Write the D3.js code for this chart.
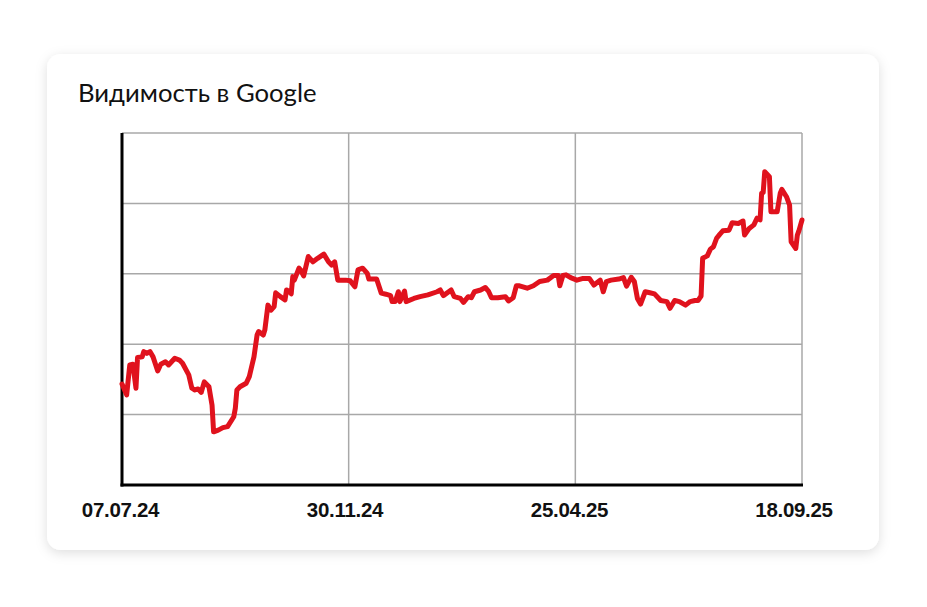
<!DOCTYPE html>
<html>
<head>
<meta charset="utf-8">
<script src="https://cdnjs.cloudflare.com/ajax/libs/d3/7.8.5/d3.min.js"></script>
<style>
  html, body { margin: 0; padding: 0; background: #ffffff; }
  #chart { width: 927px; height: 607px; }
</style>
</head>
<body>
<div id="chart"></div>
<script>
// Chart data (days after 07.07.24, visibility value)
const startDate = new Date(2024, 6, 7);
const dayOffsets = [
  0, 3, 5, 7, 9, 10, 13, 14, 16, 18, 20, 23, 25, 28, 30, 34, 37, 39, 43, 45,
  47, 49, 51, 53, 56, 58, 59, 62, 65, 68, 72, 73, 74, 76, 80, 82, 85, 87, 88, 91,
  92, 94, 96, 98, 99, 102, 105, 106, 108, 109, 110, 111, 114, 115, 117, 120, 123, 126, 130, 133,
  135, 137, 139, 144, 147, 150, 152, 155, 158, 159, 164, 167, 170, 173, 174, 176, 178, 179, 182, 183,
  188, 192, 197, 203, 205, 207, 212, 214, 218, 220, 223, 225, 227, 231, 234, 236, 238, 242, 247, 249,
  252, 254, 256, 261, 265, 269, 274, 278, 281, 282, 284, 286, 289, 293, 297, 301, 304, 308, 310, 312,
  315, 320, 323, 325, 328, 330, 332, 334, 337, 340, 343, 347, 351, 353, 356, 359, 363, 366, 369, 371,
  373, 374, 377, 379, 381, 383, 385, 387, 391, 393, 397, 400, 401, 404, 407, 409, 411, 412, 413, 414,
  417, 418, 422, 424, 425, 428, 430, 431, 434, 435, 436, 438
];
const visibility = [
  28.7, 25.6, 34.1, 34.3, 27.5, 36.2, 36.4, 37.9, 37.4, 37.9, 36.4, 32.4, 34.3, 35.0, 34.1, 36.0, 35.5, 34.6, 31.3, 27.5,
  27.0, 27.3, 26.3, 29.3, 27.9, 22.7, 15.1, 15.6, 16.3, 16.6, 19.4, 21.8, 27.0, 27.9, 28.9, 30.8, 36.4, 42.6, 43.6, 42.6,
  44.0, 51.1, 49.7, 50.7, 54.6, 53.5, 52.6, 55.4, 54.9, 54.3, 59.2, 58.2, 61.6, 61.1, 59.4, 64.9, 63.4, 64.4, 65.6, 63.4,
  62.5, 63.4, 58.2, 58.2, 58.0, 56.3, 61.1, 61.6, 60.1, 58.5, 58.5, 54.5, 54.2, 53.8, 52.1, 52.1, 54.9, 52.1, 55.1, 52.1,
  53.0, 53.5, 54.0, 54.9, 55.4, 53.8, 55.4, 53.5, 53.0, 51.9, 53.5, 53.2, 54.9, 55.4, 56.1, 55.1, 53.2, 53.2, 53.5, 52.3,
  53.2, 56.6, 56.6, 55.9, 56.6, 57.8, 58.2, 59.5, 59.5, 56.6, 59.5, 59.7, 58.9, 58.2, 58.7, 58.7, 56.8, 58.2, 54.9, 57.8,
  58.2, 58.5, 58.9, 56.5, 59.0, 57.8, 53.0, 51.4, 54.9, 54.6, 54.3, 52.4, 52.1, 50.2, 52.4, 52.1, 51.1, 52.1, 52.4, 52.4,
  53.7, 64.4, 65.1, 67.0, 67.7, 70.1, 71.2, 72.2, 72.4, 74.5, 74.3, 75.0, 71.0, 72.9, 73.9, 75.8, 75.3, 82.9, 83.1, 89.0,
  87.6, 77.6, 77.6, 82.9, 84.0, 81.9, 79.5, 69.1, 67.2, 71.0, 72.2, 75.3
];
const tickDates = ["07.07.24", "30.11.24", "25.04.25", "18.09.25"];
const yTicks = [20, 40, 60, 80, 100];

const parseTick = d3.timeParse("%d.%m.%y");
const lineData = dayOffsets.map((d, i) => ({ date: d3.timeDay.offset(startDate, d), value: visibility[i] }));

const createVisibilityChart = () => {
    //Setting up chart margins
    let margin = {top: 133, right: 125, bottom: 122, left: 122};
    let width = 927 - margin.left - margin.right;
    let height = 607 - margin.top - margin.bottom + 1;

    let root = d3.select("#chart").append("svg")
        .attr("width", 927)
        .attr("height", 607);

    //Card with soft shadow
    let defs = root.append("defs");
    defs.append("filter")
        .attr("id", "shadow")
        .attr("x", "-10%").attr("y", "-10%")
        .attr("width", "120%").attr("height", "130%")
        .append("feDropShadow")
        .attr("dx", 0).attr("dy", 3)
        .attr("stdDeviation", 6)
        .attr("flood-color", "#000")
        .attr("flood-opacity", 0.13);

    root.append("rect")
        .attr("x", 47).attr("y", 54)
        .attr("width", 832).attr("height", 496)
        .attr("rx", 14).attr("ry", 14)
        .attr("fill", "#fff")
        .attr("filter", "url(#shadow)");

    //Title
    root.append("text")
        .attr("x", 78).attr("y", 102)
        .text("Видимость в Google")
        .style("font-family", "Lato, 'Noto Sans', sans-serif")
        .style("font-size", "25.7px")
        .style("fill", "#111");

    let svg = root.append("g")
        .attr("transform", "translate(" + margin.left + "," + margin.top + ")");

    //Scales
    let x = d3.scaleTime()
        .domain([parseTick(tickDates[0]), parseTick(tickDates[tickDates.length - 1])])
        .range([0, width]);
    let xLabel = d3.scaleTime()
        .domain(x.domain())
        .range([-2, width - 8.5]);
    let y = d3.scaleLinear()
        .domain([0, 100])
        .range([height - 1, 0]);

    //Horizontal grid
    svg.append("g")
        .selectAll("line")
        .data(yTicks)
        .enter().append("line")
        .attr("x1", 0).attr("x2", width)
        .attr("y1", d => y(d)).attr("y2", d => y(d))
        .style("stroke", "#a8a8a8")
        .style("stroke-width", 1.5);

    //Vertical grid
    svg.append("g")
        .selectAll("line")
        .data(tickDates.slice(1))
        .enter().append("line")
        .attr("x1", d => x(parseTick(d))).attr("x2", d => x(parseTick(d)))
        .attr("y1", 0).attr("y2", y(0))
        .style("stroke", "#a8a8a8")
        .style("stroke-width", 1.5);

    //Axes lines
    svg.append("line")
        .attr("x1", 0).attr("x2", 0)
        .attr("y1", 0).attr("y2", y(0) + 1.5)
        .style("stroke", "#000").style("stroke-width", 3);
    svg.append("line")
        .attr("x1", -1.5).attr("x2", width + 1)
        .attr("y1", y(0)).attr("y2", y(0))
        .style("stroke", "#000").style("stroke-width", 3);

    //Date labels
    let xAxis = svg.append("g")
        .attr("transform", "translate(0," + y(0) + ")")
        .call(d3.axisBottom(xLabel)
            .tickValues(tickDates.map(parseTick))
            .tickFormat(d3.timeFormat("%d.%m.%y"))
            .tickSize(0)
            .tickPadding(17));
    xAxis.select(".domain").remove();
    xAxis.selectAll("text")
        .style("font-family", "'Liberation Sans', Arial, sans-serif")
        .style("font-weight", "bold")
        .style("font-size", "20.5px")
        .style("letter-spacing", "-0.3px")
        .style("fill", "#111");

    //Visibility line
    svg.append("path")
        .datum(lineData)
        .attr("fill", "none")
        .attr("stroke", "#e0121d")
        .attr("stroke-width", 5)
        .attr("stroke-linejoin", "round")
        .attr("stroke-linecap", "round")
        .attr("d", d3.line()
            .x(d => x(d.date))
            .y(d => y(d.value)));
}

createVisibilityChart();
</script>
</body>
</html>
